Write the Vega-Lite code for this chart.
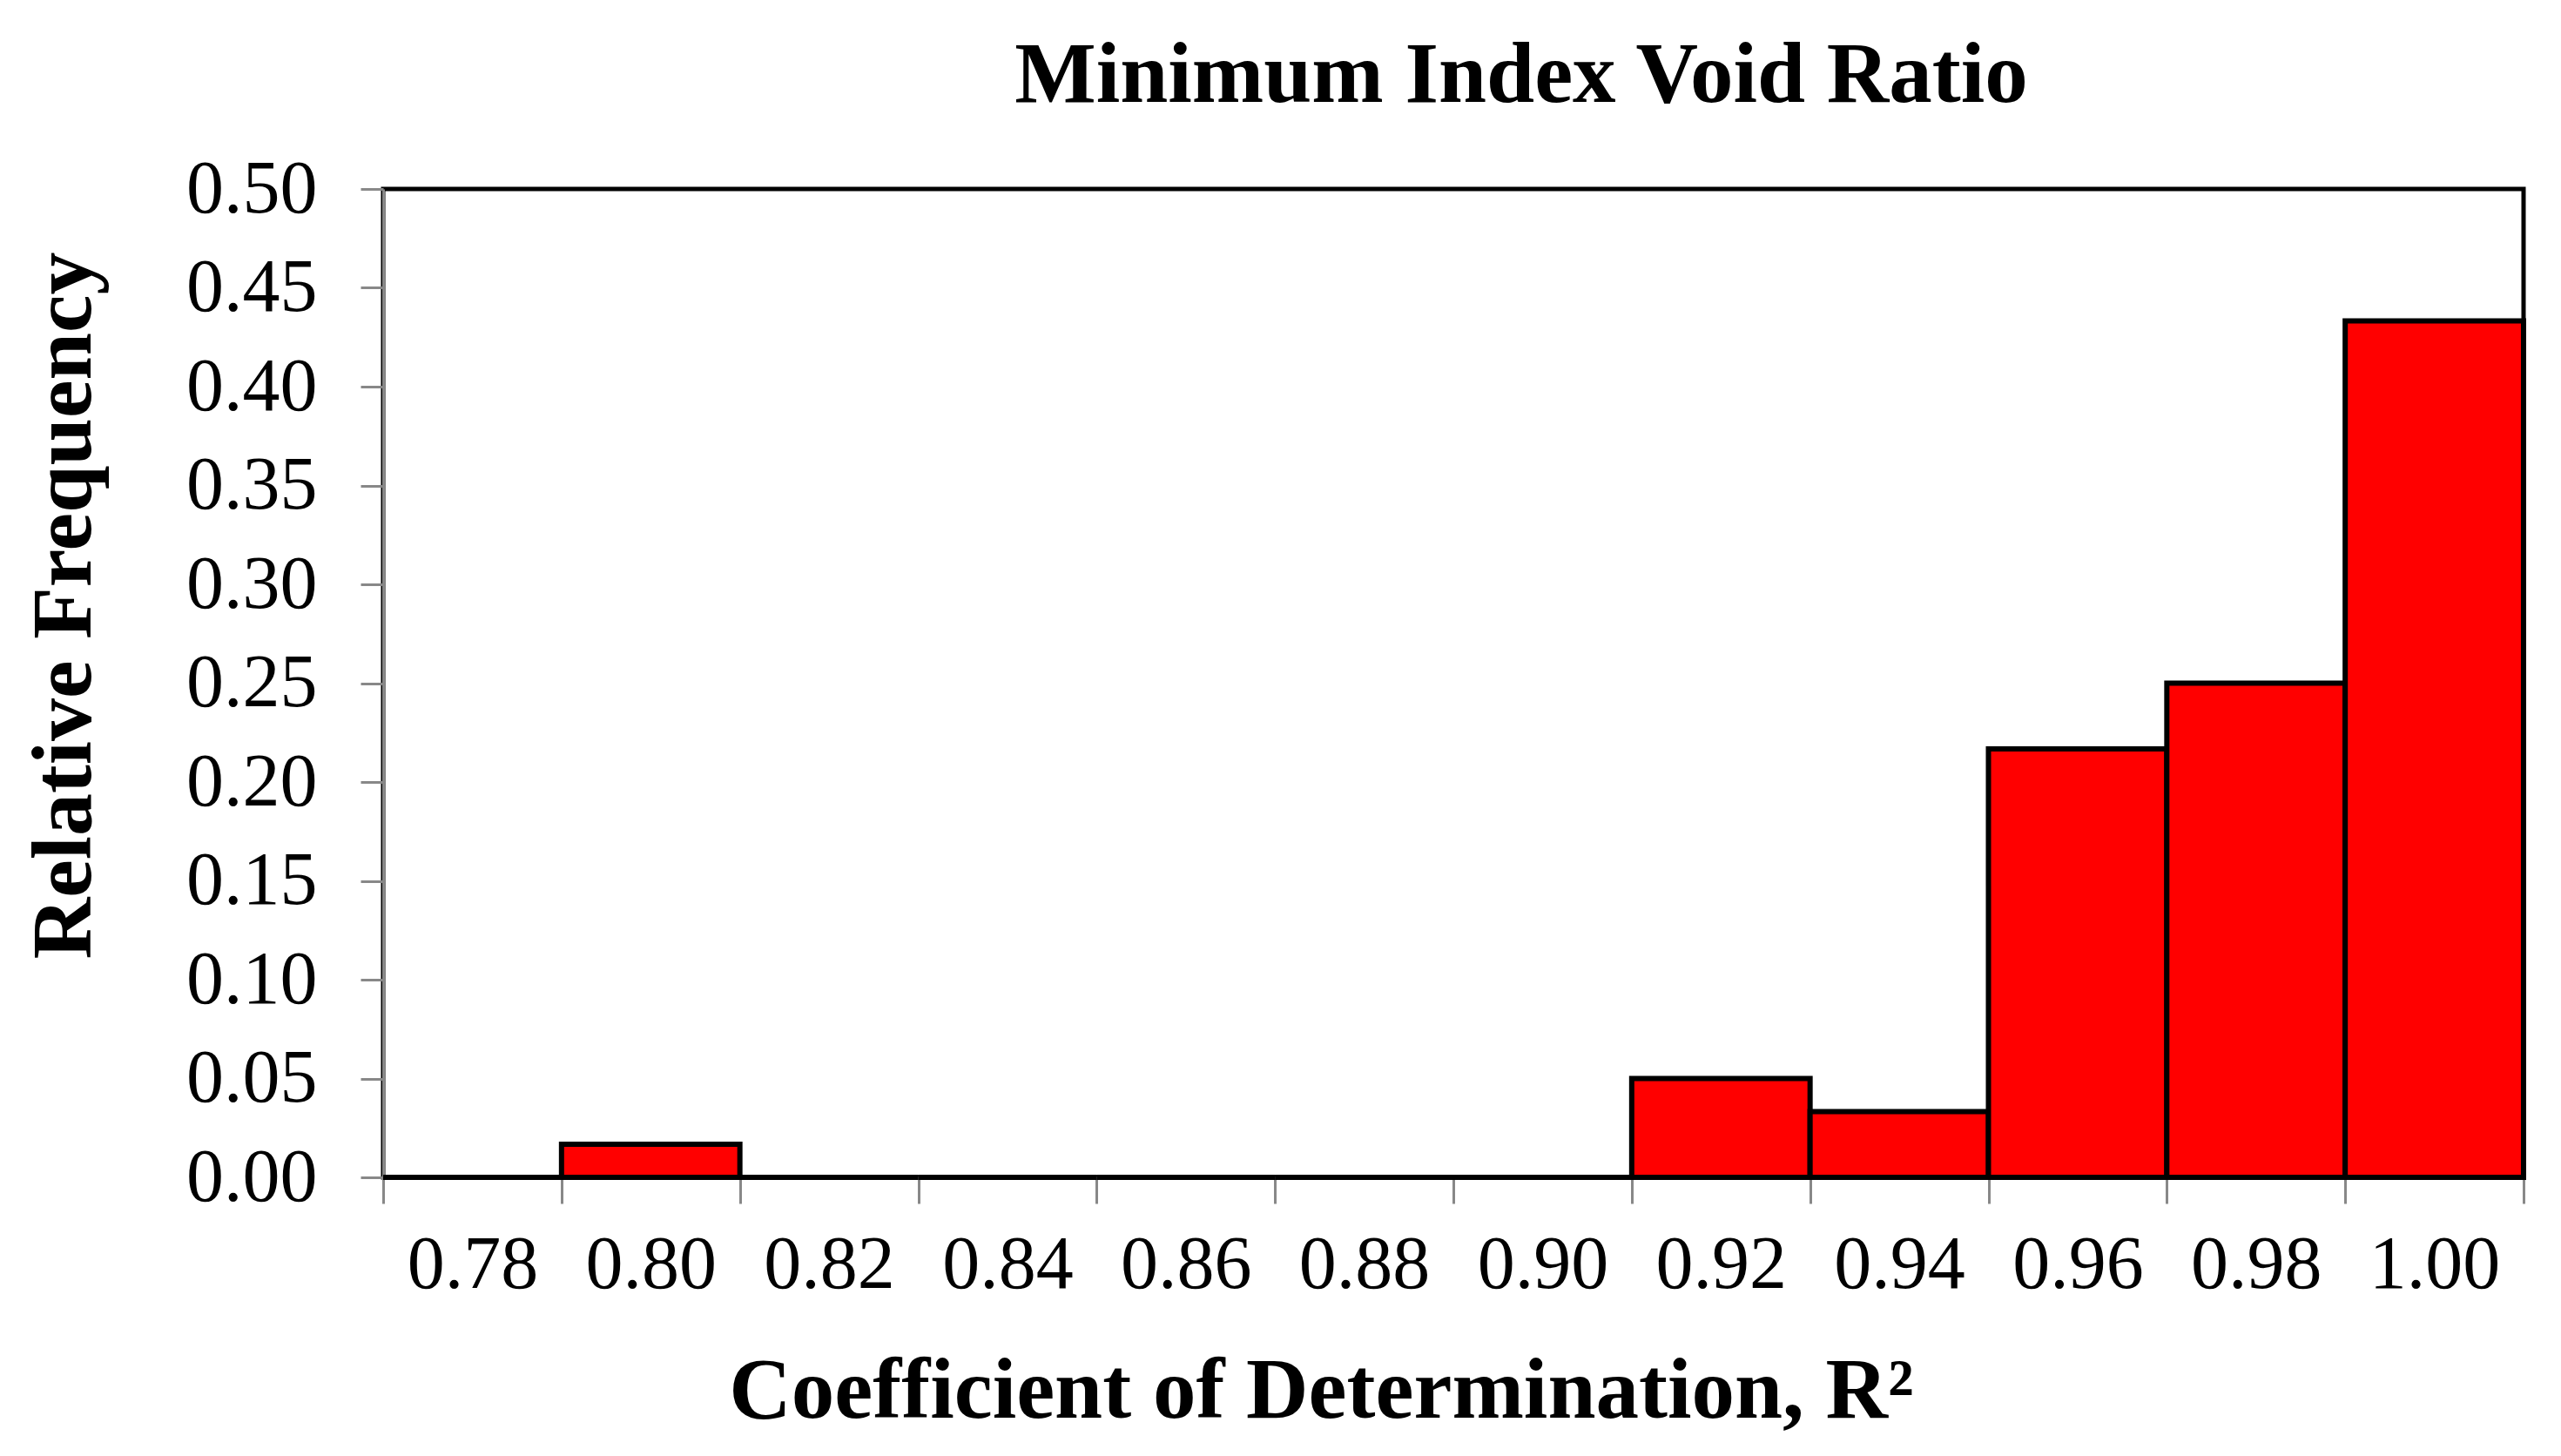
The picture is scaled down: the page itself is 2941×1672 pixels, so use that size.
{
  "$schema": "https://vega.github.io/schema/vega-lite/v6.json",
  "width": 2458,
  "height": 1135,
  "autosize": {"type": "none"},
  "padding": {"left": 440, "top": 217, "right": 43, "bottom": 320},
  "background": "white",
  "title": {
    "text": "Minimum Index Void Ratio",
    "font": "Liberation Serif",
    "fontSize": 99,
    "fontWeight": "bold",
    "color": "black",
    "anchor": "middle",
    "frame": "group",
    "offset": 20,
    "dx": 78,
    "dy": -16
  },
  "config": {
    "view": {"stroke": "black", "strokeWidth": 5},
    "axis": {
      "labelFont": "Liberation Serif",
      "labelFontSize": 86,
      "labelColor": "black",
      "titleFont": "Liberation Serif",
      "titleFontWeight": "bold",
      "titleColor": "black",
      "domainColor": "#888888",
      "domainWidth": 3,
      "tickColor": "#888888",
      "tickWidth": 3,
      "grid": false
    }
  },
  "data": {
    "values": [
      {"bin": "0.78", "freq": 0},
      {"bin": "0.80", "freq": 0.0167},
      {"bin": "0.82", "freq": 0},
      {"bin": "0.84", "freq": 0},
      {"bin": "0.86", "freq": 0},
      {"bin": "0.88", "freq": 0},
      {"bin": "0.90", "freq": 0},
      {"bin": "0.92", "freq": 0.05},
      {"bin": "0.94", "freq": 0.0333},
      {"bin": "0.96", "freq": 0.2167},
      {"bin": "0.98", "freq": 0.25},
      {"bin": "1.00", "freq": 0.4333}
    ]
  },
  "mark": {"type": "bar", "fill": "#ff0000", "stroke": "black", "strokeWidth": 6},
  "encoding": {
    "x": {
      "field": "bin",
      "type": "ordinal",
      "sort": null,
      "scale": {"paddingInner": 0, "paddingOuter": 0},
      "axis": {
        "title": "Coefficient of Determination, R²",
        "titleFontSize": 99,
        "titleBaseline": "alphabetic",
        "labelAngle": 0,
        "labelPadding": 28,
        "tickSize": 30,
        "tickBand": "extent",
        "titleX": 1077,
        "titleY": 275
      }
    },
    "y": {
      "field": "freq",
      "type": "quantitative",
      "scale": {"domain": [0, 0.5], "nice": false},
      "axis": {
        "title": "Relative Frequency",
        "titleFontSize": 98,
        "values": [0, 0.05, 0.1, 0.15, 0.2, 0.25, 0.3, 0.35, 0.4, 0.45, 0.5],
        "format": ".2f",
        "tickSize": 26,
        "labelPadding": 50,
        "titleBaseline": "alphabetic",
        "titleX": -337,
        "titleY": 478
      }
    }
  }
}
